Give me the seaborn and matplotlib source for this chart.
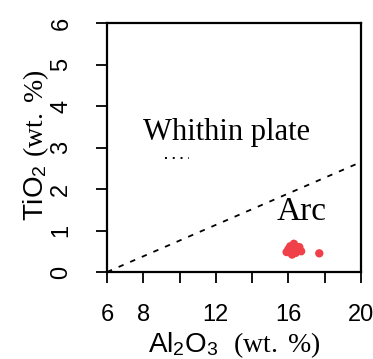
import matplotlib
matplotlib.use("Agg")
import matplotlib.pyplot as plt
import seaborn as sns
import pandas as pd

# data
al2o3 = [15.9, 16.1, 16.3, 16.5, 16.7, 16.2, 16.4, 16.0, 16.6, 16.3, 17.7]
tio2 = [0.48, 0.62, 0.68, 0.56, 0.50, 0.42, 0.46, 0.55, 0.60, 0.52, 0.45]
boundary_x = [6, 20]
boundary_y = [0, 2.65]
dotted_x = [9.2, 10.5]
dotted_y = [2.75, 2.75]
xticks = [6, 8, 10, 12, 14, 16, 18, 20]
xtick_labels = ["6", "8", "", "12", "", "16", "", "20"]
yticks = [0, 1, 2, 3, 4, 5, 6]
yticklabels = ["0", "1", "2", "3", "4", "5", "6"]
labels = ["Whithin plate", "Arc"]
label_x = [12.6, 16.75]
label_y = [3.18, 1.25]
label_sizes = [22, 24]

sns.set_theme(style="white")
plt.rcParams["font.family"] = ["Liberation Sans", "DejaVu Sans"]
plt.rcParams["mathtext.fontset"] = "custom"
plt.rcParams["mathtext.rm"] = "Liberation Serif"
plt.rcParams["mathtext.sf"] = "Liberation Sans"
plt.rcParams["mathtext.it"] = "Liberation Serif:italic"

fig = plt.figure(figsize=(3.73, 3.59), dpi=100)
ax = fig.add_axes([107/373, 1-272/359, 254/373, 249/359])

df = pd.DataFrame({"Al2O3": al2o3, "TiO2": tio2})
sns.scatterplot(data=df, x="Al2O3", y="TiO2", ax=ax, color="#f0404a",
                s=36, edgecolor="none", linewidth=0)
ax.plot(boundary_x, boundary_y, color="black", lw=1.3, linestyle=(0, (3, 4)))
ax.plot(dotted_x, dotted_y, color="black", lw=1.4, linestyle=(0, (1, 3)))

for t, x, y, fs in zip(labels, label_x, label_y, label_sizes):
    ax.text(x, y, t, family="Liberation Serif", fontsize=fs, ha="center",
            va="baseline", color="black")

ax.set_xlim(6, 20)
ax.set_ylim(0, 6)
ax.set_xticks(xticks)
ax.set_xticklabels(xtick_labels)
ax.set_yticks(yticks)
ax.set_yticklabels(yticklabels, rotation=90, va="center")
ax.tick_params(axis="both", direction="out", length=8, width=1.3,
               labelsize=17, color="black", labelcolor="black")
ax.tick_params(axis="x", pad=15)
ax.tick_params(axis="y", pad=17)
ax.tick_params(bottom=True, left=True)
for sp in ax.spines.values():
    sp.set_visible(True)
    sp.set_color("black")
    sp.set_linewidth(1.6)

ax.set_xlabel(r"Al$_\mathsf{2}$O$_\mathsf{3}$  $\mathrm{(wt.\ \%)}$", fontsize=20,
              va="center", color="black")
ax.xaxis.set_label_coords(0.5, -0.292)
ax.set_ylabel(r"TiO$_\mathsf{2}$ $\mathrm{(wt.\ \%)}$", fontsize=20,
              va="center", color="black")
ax.yaxis.set_label_coords(-0.28, 0.51)

fig.savefig("out.png", dpi=100)
